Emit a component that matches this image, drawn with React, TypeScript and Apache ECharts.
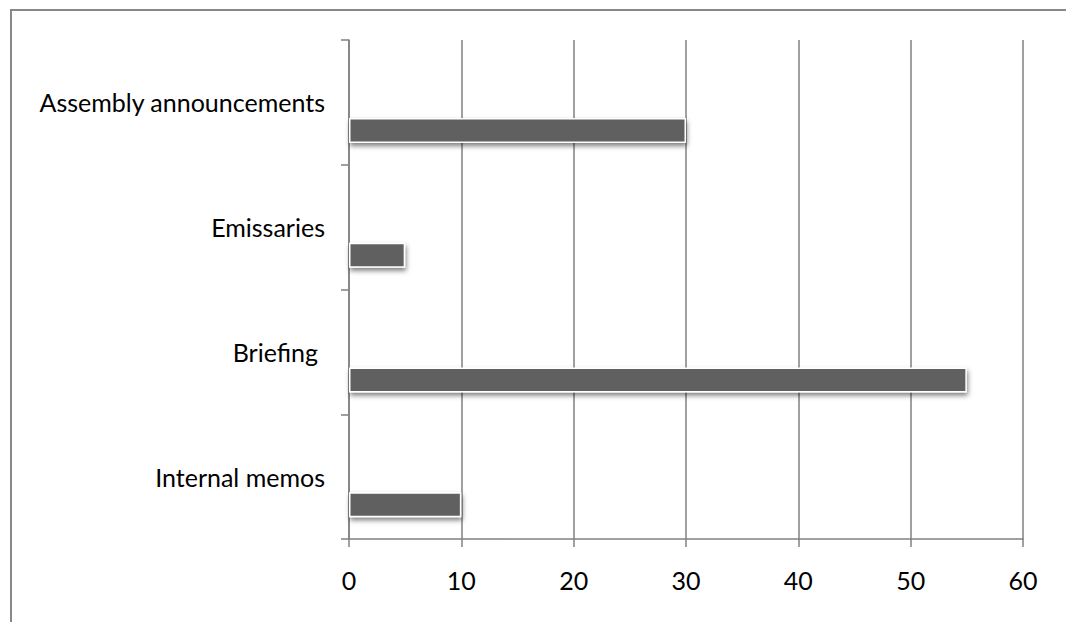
import React, { useEffect, useRef } from "react";
import * as echarts from "echarts";

const categories = ["Internal memos", "Briefing", "Emissaries", "Assembly announcements"];
const values = [10, 55, 5, 30];
const emptySeries = [null, null, null, null];
const xTicks = { min: 0, max: 60, interval: 10 };

export default function App() {
  const ref = useRef<HTMLDivElement>(null);
  useEffect(() => {
    if (!ref.current) return;
    const chart = echarts.init(ref.current, null, { renderer: "svg" });
    const grey = "#808080";
    const font = "Lato";
    chart.setOption({
      animation: false,
      backgroundColor: "#ffffff",
      grid: { left: 349, right: 43, top: 40, bottom: 83, containLabel: false },
      graphic: [
        {
          type: "rect",
          shape: { x: 11, y: 10, width: 1200, height: 800 },
          style: { fill: "none", stroke: "#888888", lineWidth: 2 },
          silent: true,
        },
      ],
      xAxis: {
        type: "value",
        min: xTicks.min,
        max: xTicks.max,
        interval: xTicks.interval,
        axisLine: { show: true, lineStyle: { color: grey, width: 1.5 } },
        axisTick: { show: true, length: 8, lineStyle: { color: grey, width: 1.5 } },
        splitLine: { show: true, lineStyle: { color: grey, width: 1.5 } },
        axisLabel: { margin: 28, fontSize: 25, fontFamily: font, color: "#000" },
      },
      yAxis: {
        type: "category",
        data: categories,
        axisLine: { show: true, lineStyle: { color: grey, width: 1.5 } },
        axisTick: { show: true, length: 8, alignWithLabel: false, lineStyle: { color: grey, width: 1.5 } },
        splitLine: { show: false },
        axisLabel: {
          margin: 24,
          fontSize: 25,
          fontFamily: font,
          color: "#000",
          formatter: (v: string) => (v === "Briefing" ? "{b|" + v + "}" : v),
          rich: { b: { fontSize: 25, fontFamily: font, color: "#000", padding: [0, 7, 0, 0] } },
        },
      },
      series: [
        {
          type: "bar",
          name: "blank",
          data: emptySeries,
          barWidth: 25,
          barGap: "124%",
        },
        {
          type: "bar",
          name: "value",
          data: values,
          barWidth: 25,
          barGap: "124%",
          itemStyle: {
            color: "#606060",
            borderColor: "#ffffff",
            borderWidth: 1.5,
            shadowColor: "rgba(0,0,0,0.5)",
            shadowBlur: 5,
            shadowOffsetX: 1,
            shadowOffsetY: 3,
          },
        },
      ],
    });
    return () => chart.dispose();
  }, []);
  return (
    <div
      ref={ref}
      style={{ position: "fixed", left: 0, top: 0, width: 1066, height: 622 }}
    />
  );
}
